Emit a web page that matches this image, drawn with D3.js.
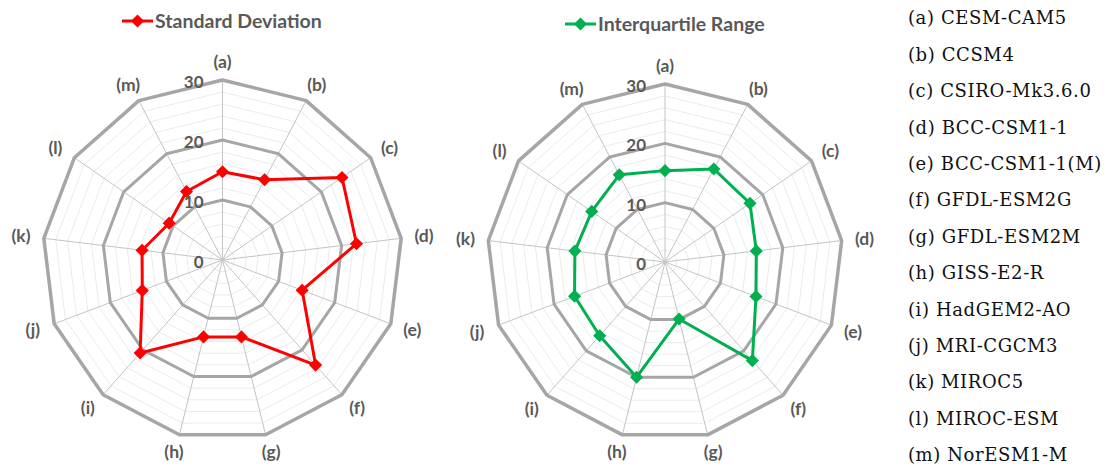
<!DOCTYPE html>
<html>
<head>
<meta charset="utf-8">
<script src="https://cdn.jsdelivr.net/npm/d3@7"></script>
<style>
  body { margin: 0; background: #fff; }
  svg { display: block; }
</style>
</head>
<body>
<svg width="1114" height="468"></svg>
<script>
// categories (spokes) and the two series
const categories = ['(a)', '(b)', '(c)', '(d)', '(e)', '(f)', '(g)', '(h)', '(i)', '(j)', '(k)', '(l)', '(m)']
const stdDev = [14.7, 15.1, 24.2, 22.5, 14.2, 23.4, 13.2, 13.2, 20.7, 14.3, 13.5, 10.8, 12.9]
const iqr = [15.4, 17.7, 17.4, 15.5, 16.4, 22.2, 9.9, 20.0, 16.6, 16.3, 15.3, 15.0, 16.6]
const majorTicks = [0, 10, 20, 30]
const minorTicks = [2, 4, 6, 8, 12, 14, 16, 18, 22, 24, 26, 28]
const models = ['(a) CESM-CAM5', '(b) CCSM4', '(c) CSIRO-Mk3.6.0', '(d) BCC-CSM1-1',
    '(e) BCC-CSM1-1(M)', '(f) GFDL-ESM2G', '(g) GFDL-ESM2M', '(h) GISS-E2-R',
    '(i) HadGEM2-AO', '(j) MRI-CGCM3', '(k) MIROC5', '(l) MIROC-ESM', '(m) NorESM1-M']

const svg = d3.select('svg')
const labelColor = '#595959'

function drawRadar(opts) {
    let g = svg.append('g')
        .attr('transform', 'translate(' + opts.cx + ',' + opts.cy + ')')

    let r = d3.scaleLinear().domain([0, 30]).range([0, opts.radius])
    let angle = d3.scaleLinear().domain([0, categories.length]).range([0, 2 * Math.PI])

    // polygon ring for a given value
    let ring = function(v) {
        return d3.lineRadial()
            .angle(function(d, i) { return angle(i) })
            .radius(function() { return r(v) })
            .curve(d3.curveLinearClosed)(categories)
    }

    g.selectAll('.minor')
        .data(minorTicks)
        .enter().append('path')
        .attr('d', ring)
        .attr('fill', 'none')
        .attr('stroke', '#ebebeb')
        .attr('stroke-width', 1)

    // spokes
    g.selectAll('.spoke')
        .data(categories)
        .enter().append('line')
        .attr('x1', 0).attr('y1', 0)
        .attr('x2', function(d, i) { return r(30) * Math.sin(angle(i)) })
        .attr('y2', function(d, i) { return -r(30) * Math.cos(angle(i)) })
        .attr('stroke', '#c4c4c4')
        .attr('stroke-width', 1)

    g.selectAll('.major')
        .data(majorTicks.filter(function(d) { return d > 0 }))
        .enter().append('path')
        .attr('d', ring)
        .attr('fill', 'none')
        .attr('stroke', '#a6a6a6')
        .attr('stroke-width', function(d) { return d == 30 ? 3.5 : 3 })
        .attr('stroke-linejoin', 'round')

    // tick labels
    g.selectAll('.tick')
        .data(majorTicks)
        .enter().append('text')
        .attr('x', -19)
        .attr('y', function(d) { return -r(d) + 2 })
        .attr('dy', '0.35em')
        .attr('text-anchor', 'end')
        .attr('font-family', 'Lato, sans-serif')
        .attr('font-weight', 'bold')
        .attr('font-size', 17)
        .attr('fill', labelColor)
        .text(function(d) { return d })

    // category labels
    let lr = opts.radius + 15
    g.selectAll('.cat')
        .data(categories)
        .enter().append('text')
        .attr('x', function(d, i) { return lr * Math.sin(angle(i)) + 8 * Math.sin(angle(i)) })
        .attr('y', function(d, i) { return -lr * Math.cos(angle(i)) - 3 * Math.cos(angle(i)) })
        .attr('dy', '0.35em')
        .attr('text-anchor', 'middle')
        .attr('font-family', 'Lato, sans-serif')
        .attr('font-weight', 'bold')
        .attr('font-size', 17.5)
        .attr('fill', labelColor)
        .text(function(d) { return d })

    // data line
    let line = d3.lineRadial()
        .angle(function(d, i) { return angle(i) })
        .radius(function(d) { return r(d) })
        .curve(d3.curveLinearClosed)

    g.append('path')
        .datum(opts.values)
        .attr('d', line)
        .attr('fill', 'none')
        .attr('stroke', opts.color)
        .attr('stroke-width', 3)
        .attr('stroke-linejoin', 'round')

    let diamond = d3.symbol().type(d3.symbolDiamond2).size(110)
    g.selectAll('.pt')
        .data(opts.values)
        .enter().append('path')
        .attr('d', diamond)
        .attr('transform', function(d, i) {
            return 'translate(' + (r(d) * Math.sin(angle(i))) + ',' + (-r(d) * Math.cos(angle(i))) + ')'
        })
        .attr('fill', opts.color)

    // legend on top
    let lg = svg.append('g')
        .attr('transform', 'translate(' + opts.legendX + ',' + opts.legendY + ')')
    lg.append('line')
        .attr('x1', 0).attr('x2', 31)
        .attr('stroke', opts.color)
        .attr('stroke-width', 3)
    lg.append('path')
        .attr('d', diamond)
        .attr('transform', 'translate(15.5,0)')
        .attr('fill', opts.color)
    lg.append('text')
        .attr('x', 33)
        .attr('dy', '0.35em')
        .attr('font-family', 'Lato, sans-serif')
        .attr('font-weight', 'bold')
        .attr('font-size', 19.5)
        .attr('fill', labelColor)
        .text(opts.name)
}

drawRadar({ cx: 222.5, cy: 260, radius: 180, values: stdDev, color: '#ff0000',
    name: 'Standard Deviation', legendX: 122, legendY: 21 })
drawRadar({ cx: 665, cy: 262, radius: 178, values: iqr, color: '#00b050',
    name: 'Interquartile Range', legendX: 565, legendY: 24 })

// model list
svg.append('g')
    .selectAll('text')
    .data(models)
    .enter().append('text')
    .attr('x', 908)
    .attr('y', function(d, i) { return 18 + i * 36.4 })
    .attr('dy', '0.35em')
    .attr('font-family', 'DejaVu Serif, serif')
    .attr('font-size', 18)
    .attr('letter-spacing', 0.6)
    .attr('fill', '#111')
    .text(function(d) { return d })
</script>
</body>
</html>
